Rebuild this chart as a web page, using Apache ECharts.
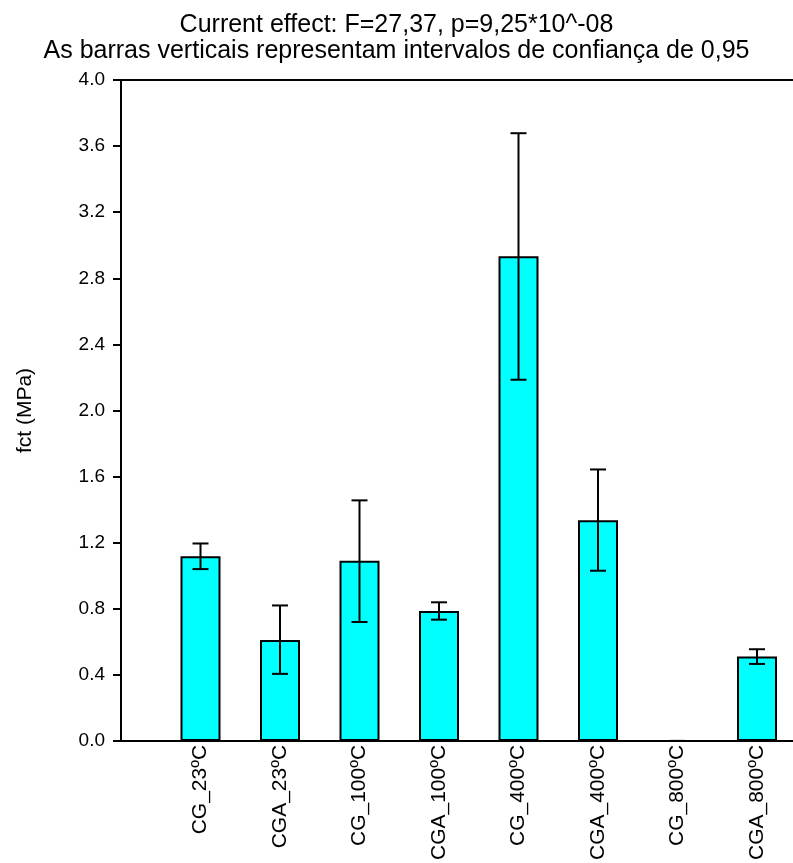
<!DOCTYPE html>
<html>
<head>
<meta charset="utf-8">
<script src="https://cdn.jsdelivr.net/npm/echarts@6/dist/echarts.min.js"></script>
<style>
html,body{margin:0;padding:0;background:#fff;}
#chart{width:793px;height:863px;}
</style>
</head>
<body>
<div id="chart"></div>
<script>
const categories = ['CG_23ºC','CGA_23ºC','CG_100ºC','CGA_100ºC','CG_400ºC','CGA_400ºC','CG_800ºC','CGA_800ºC'];
const means = [1.118, 0.611, 1.090, 0.786, 2.934, 1.335, 0, 0.511];
const lower = [1.040, 0.406, 0.720, 0.734, 2.186, 1.030, 0, 0.466];
const upper = [1.195, 0.820, 1.456, 0.839, 3.678, 1.643, 0, 0.555];
const titleLines = ['Current effect: F=27,37, p=9,25*10^-08', 'As barras verticais representam intervalos de confiança de 0,95'];
const yName = 'fct (MPa)';

const FONT = '"Liberation Sans", Arial, sans-serif';
const chart = echarts.init(document.getElementById('chart'), null, {renderer: 'canvas'});

const barData = means.map((v, i) => [i + 1, v]);
const errData = means.map((v, i) => [i + 1, lower[i], upper[i]]);

// plot area: x from 121 to the canvas edge (793); one category slot = 79.5 px,
// the full frame (0..9 slots) extends past the picture's right edge
const slotPx = 79.5;
const xVisibleMax = (793 - 121) / slotPx;

chart.setOption({
  backgroundColor: '#fff',
  animation: false,
  title: {
    text: titleLines.join('\n'),
    left: 'center',
    top: 7,
    textStyle: {fontFamily: FONT, fontSize: 25, fontWeight: 'normal', color: '#000', lineHeight: 26}
  },
  grid: {left: 121, top: 80, height: 663, right: 0, show: false},
  xAxis: [
    {
      type: 'value', min: 0, max: xVisibleMax, interval: 1,
      splitLine: {show: false},
      axisTick: {show: false},
      axisLine: {show: true, onZero: false, lineStyle: {color: '#000', width: 2}},
      axisLabel: {
        rotate: 90, margin: 4, fontFamily: FONT, fontSize: 21, color: '#000',
        showMaxLabel: false,
        formatter: v => (v >= 1 && v <= categories.length && Number.isInteger(v)) ? categories[v - 1] : ''
      }
    },
    {
      type: 'value', position: 'top', min: 0, max: xVisibleMax,
      splitLine: {show: false}, axisTick: {show: false}, axisLabel: {show: false},
      axisLine: {show: true, onZero: false, lineStyle: {color: '#000', width: 2}}
    }
  ],
  yAxis: {
    type: 'value', min: 0, max: 4, interval: 0.4,
    name: yName, nameLocation: 'middle', nameGap: 85, nameRotate: 90,
    nameTextStyle: {fontFamily: FONT, fontSize: 21, color: '#000'},
    splitLine: {show: false},
    axisLine: {show: true, lineStyle: {color: '#000', width: 2}},
    axisTick: {show: true, inside: false, length: 8, lineStyle: {color: '#000', width: 2}},
    axisLabel: {margin: 16, fontFamily: FONT, fontSize: 19, color: '#000', formatter: v => v.toFixed(1)}
  },
  series: [
    {
      type: 'bar',
      data: barData,
      barWidth: 40,
      itemStyle: {color: '#00FFFF', borderColor: '#000', borderWidth: 2},
      z: 2
    },
    {
      type: 'custom',
      data: errData,
      z: 3,
      renderItem: function (params, api) {
        const x = api.value(0);
        const lo = api.coord([x, api.value(1)]);
        const hi = api.coord([x, api.value(2)]);
        const hw = 8;
        const style = {stroke: '#000', lineWidth: 2};
        return {
          type: 'group',
          children: [
            {type: 'line', shape: {x1: lo[0], y1: lo[1], x2: hi[0], y2: hi[1]}, style: style},
            {type: 'line', shape: {x1: lo[0] - hw, y1: lo[1], x2: lo[0] + hw, y2: lo[1]}, style: style},
            {type: 'line', shape: {x1: hi[0] - hw, y1: hi[1], x2: hi[0] + hw, y2: hi[1]}, style: style}
          ]
        };
      }
    }
  ]
});
</script>
</body>
</html>
